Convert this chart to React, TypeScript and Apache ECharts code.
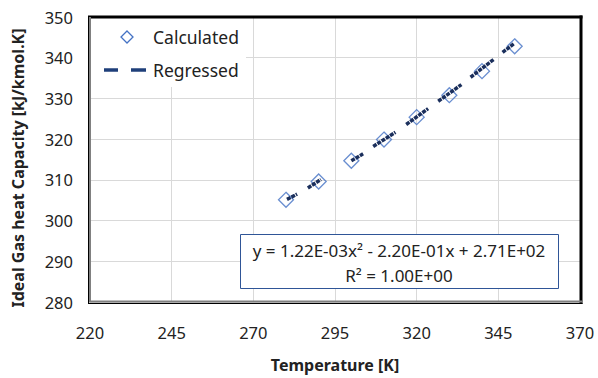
import React, { useEffect, useRef } from "react";
import * as echarts from "echarts";

const temperatures = [280, 290, 300, 310, 320, 330, 340, 350];
const calculated = [305.1, 309.6, 314.7, 319.9, 325.4, 330.8, 336.7, 342.8];

// Regressed trend-line segments (start/end)
const regressedT = [
  [280.3, 283.4],
  [286.7, 290.7],
  [300.0, 303.6],
  [306.7, 313.5],
  [316.8, 323.5],
  [326.6, 333.7],
  [336.5, 343.6],
  [346.3, 349.7],
];
const regressedCp = [
  [305.2, 306.5],
  [308.0, 310.1],
  [314.7, 316.4],
  [318.2, 321.7],
  [323.6, 327.5],
  [329.3, 333.4],
  [335.2, 339.6],
  [341.3, 343.4],
];

const xMin = 220;
const xMax = 370;
const xInterval = 25;
const yMin = 280;
const yMax = 350;
const yInterval = 10;

const legendLabels = ["Calculated", "Regressed"];
const equationText = "y = 1.22E-03x\u00B2 - 2.20E-01x + 2.71E+02";
const r2Text = "R\u00B2 = 1.00E+00";
const xTitle = "Temperature [K]";
const yTitle = "Ideal Gas heat Capacity [kJ/kmol.K]";

const FONT = "'Noto Sans', 'Open Sans', sans-serif";

export default function App() {
  const ref = useRef<HTMLDivElement>(null);

  useEffect(() => {
    if (!ref.current) return;
    const chart = echarts.init(ref.current, undefined, { renderer: "svg" });

    const regSeries = regressedT.map((ts, i) => ({
      type: "line",
      name: legendLabels[1],
      data: ts.map((t, j) => [t, regressedCp[i][j]]),
      symbol: "none",
      z: 5,
      lineStyle: { color: "#1B2F5C", width: 3.5, type: [4, 1] },
    }));

    const option: any = {
      animation: false,
      backgroundColor: "#ffffff",
      grid: { left: 90, right: 18, top: 17, bottom: 75, show: false },
      xAxis: {
        type: "value",
        min: xMin,
        max: xMax,
        interval: xInterval,
        name: xTitle,
        nameLocation: "middle",
        nameGap: 55,
        nameTextStyle: { fontFamily: FONT, fontSize: 16, fontWeight: "bold", color: "#222" },
        axisLine: { show: false },
        axisTick: { show: false },
        axisLabel: { margin: 22, fontFamily: FONT, fontSize: 16.5, color: "#222" },
        splitLine: { show: true, lineStyle: { color: "#d9d9d9", width: 1 } },
      },
      yAxis: {
        type: "value",
        min: yMin,
        max: yMax,
        interval: yInterval,
        axisLine: { show: false },
        axisTick: { show: false },
        axisLabel: { margin: 17, fontFamily: FONT, fontSize: 16.5, color: "#222" },
        splitLine: { show: true, lineStyle: { color: "#d9d9d9", width: 1 } },
      },
      series: [
        {
          type: "scatter",
          name: legendLabels[0],
          data: temperatures.map((t, i) => [t, calculated[i]]),
          symbol: "diamond",
          symbolSize: 15,
          z: 3,
          itemStyle: { color: "rgba(255,255,255,0)", borderColor: "#4472C4", borderWidth: 1.3 },
        },
        ...regSeries,
      ],
      graphic: [
        // y axis title
        {
          type: "text",
          z: 51,
          x: 18,
          y: 168,
          rotation: Math.PI / 2,
          style: { text: yTitle, fontFamily: FONT, fontSize: 16, fontWeight: "bold", fill: "#222", align: "center", verticalAlign: "middle" },
        },
        // legend background
        { type: "rect", z: 50, shape: { x: 91, y: 18, width: 155, height: 69 }, style: { fill: "#ffffff" } },
        {
          type: "polygon",
          z: 51,
          shape: { points: [[127, 31], [133, 37], [127, 43], [121, 37]] },
          style: { fill: "none", stroke: "#4472C4", lineWidth: 1.3 },
        },
        { type: "text", z: 51, x: 153, y: 37, style: { text: legendLabels[0], fontFamily: FONT, fontSize: 17.5, fill: "#222", verticalAlign: "middle" } },
        { type: "line", z: 51, shape: { x1: 104, y1: 70, x2: 118, y2: 70 }, style: { stroke: "#1F3F7A", lineWidth: 3.5 } },
        { type: "line", z: 51, shape: { x1: 131, y1: 70, x2: 146, y2: 70 }, style: { stroke: "#1F3F7A", lineWidth: 3.5 } },
        { type: "text", z: 51, x: 153, y: 70, style: { text: legendLabels[1], fontFamily: FONT, fontSize: 17.5, fill: "#222", verticalAlign: "middle" } },
        // equation box
        { type: "rect", z: 50, shape: { x: 240.5, y: 234.5, width: 318, height: 54 }, style: { fill: "#ffffff", stroke: "#2F5597", lineWidth: 1 } },
        { type: "text", z: 51, x: 399, y: 250, style: { text: equationText, fontFamily: FONT, fontSize: 17, fill: "#222", align: "center", verticalAlign: "middle" } },
        { type: "text", z: 51, x: 399, y: 275, style: { text: r2Text, fontFamily: FONT, fontSize: 17, fill: "#222", align: "center", verticalAlign: "middle" } },
        // frame
        { type: "line", z: 60, shape: { x1: 88, y1: 17, x2: 582.5, y2: 17 }, style: { stroke: "#000", lineWidth: 3 } },
        { type: "line", z: 60, shape: { x1: 581, y1: 15.5, x2: 581, y2: 304 }, style: { stroke: "#000", lineWidth: 3 } },
        { type: "line", z: 60, shape: { x1: 89, y1: 301.5, x2: 582, y2: 301.5 }, style: { stroke: "#808080", lineWidth: 2 } },
        { type: "line", z: 60, shape: { x1: 88, y1: 303.5, x2: 582.5, y2: 303.5 }, style: { stroke: "#000", lineWidth: 1 } },
        { type: "line", z: 60, shape: { x1: 90, y1: 17, x2: 90, y2: 302 }, style: { stroke: "#808080", lineWidth: 2 } },
        { type: "line", z: 60, shape: { x1: 88.5, y1: 16, x2: 88.5, y2: 304 }, style: { stroke: "#000", lineWidth: 1 } },
      ],
    };

    chart.setOption(option);
    return () => chart.dispose();
  }, []);

  return (
    <div
      ref={ref}
      style={{ position: "absolute", left: 0, top: 0, width: 598, height: 378 }}
    />
  );
}
